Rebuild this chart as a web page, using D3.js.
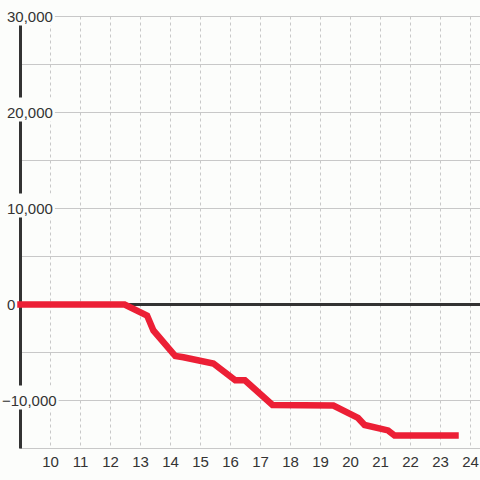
<!DOCTYPE html>
<html>
<head>
<meta charset="utf-8">
<script src="https://cdn.jsdelivr.net/npm/d3@7"></script>
<style>
  html, body { margin: 0; padding: 0; background: #fcfdfb; }
  svg { display: block; }
  text { font-family: "Liberation Sans", Arial, sans-serif; font-size: 15px; fill: #333; }
</style>
</head>
<body>
<div id="chart"></div>
<script>
// data
var hours   = [9, 12.47, 13.22, 13.43, 14.16, 14.43, 15.43, 16.16, 16.48, 17.4, 19.43, 20.25, 20.47, 21.25, 21.47, 23.5];
var balance = [0, 0, -1150, -2700, -5370, -5500, -6150, -7900, -7900, -10470, -10520, -11820, -12550, -13120, -13650, -13650];
var xTicks = [10, 11, 12, 13, 14, 15, 16, 17, 18, 19, 20, 21, 22, 23, 24];
var yTicks = [-10000, 0, 10000, 20000, 30000];
var yGrid  = [-15000, -10000, -5000, 0, 5000, 10000, 15000, 20000, 25000, 30000];

var width = 480, height = 480;
var svg = d3.select("#chart").append("svg")
    .attr("width", width)
    .attr("height", height);

svg.append("rect").attr("width", width).attr("height", height).attr("fill", "#fcfdfb");

var x = d3.scaleLinear().domain([9, 24.3167]).range([20.5, 480]);
var y = d3.scaleLinear().domain([-15000, 30000]).range([448.5, 16.5]);

// vertical dashed grid
svg.append("g").selectAll("line").data(xTicks).enter().append("line")
    .attr("x1", d => x(d)).attr("x2", d => x(d))
    .attr("y1", y(30000)).attr("y2", y(-15000))
    .attr("stroke", "#c8c8c8")
    .attr("stroke-dasharray", "3,3");

// horizontal grid
svg.append("g").selectAll("line").data(yGrid).enter().append("line")
    .attr("x1", 20).attr("x2", width)
    .attr("y1", d => y(d)).attr("y2", d => y(d))
    .attr("stroke", "#c8c8c8");

// y axis line
svg.append("line")
    .attr("x1", 20.5).attr("x2", 20.5)
    .attr("y1", y(30000) - 0.5).attr("y2", y(-15000))
    .attr("stroke", "#333").attr("stroke-width", 3);

// zero line
svg.append("line")
    .attr("x1", 20).attr("x2", width)
    .attr("y1", y(0)).attr("y2", y(0))
    .attr("stroke", "#333").attr("stroke-width", 3);

// y labels, left aligned with the minus sign hanging, on background boxes
var yl = svg.append("g").selectAll("g").data(yTicks).enter().append("g");
yl.append("rect").attr("fill", "#fcfdfb");
yl.append("text")
    .attr("x", d => d < 0 ? 2 : 7)
    .attr("y", d => y(d) + 5)
    .text(d => d3.format(",")(d));
yl.each(function() {
    var g = d3.select(this);
    var b = g.select("text").node().getBBox();
    g.select("rect")
        .attr("x", b.x - 2).attr("y", b.y - 6)
        .attr("width", b.width + 4).attr("height", b.height + 7);
});

// x labels
svg.append("g").selectAll("text").data(xTicks).enter().append("text")
    .attr("x", d => x(d))
    .attr("y", 466.5)
    .attr("text-anchor", "middle")
    .text(d => d);

// the series
var line = d3.line()
    .x((d, i) => x(hours[i]))
    .y(d => y(d));

svg.append("path")
    .datum(balance)
    .attr("d", line)
    .attr("fill", "none")
    .attr("stroke", "#ec1f35")
    .attr("stroke-width", 6.5)
    .attr("stroke-linecap", "square");
</script>
</body>
</html>
